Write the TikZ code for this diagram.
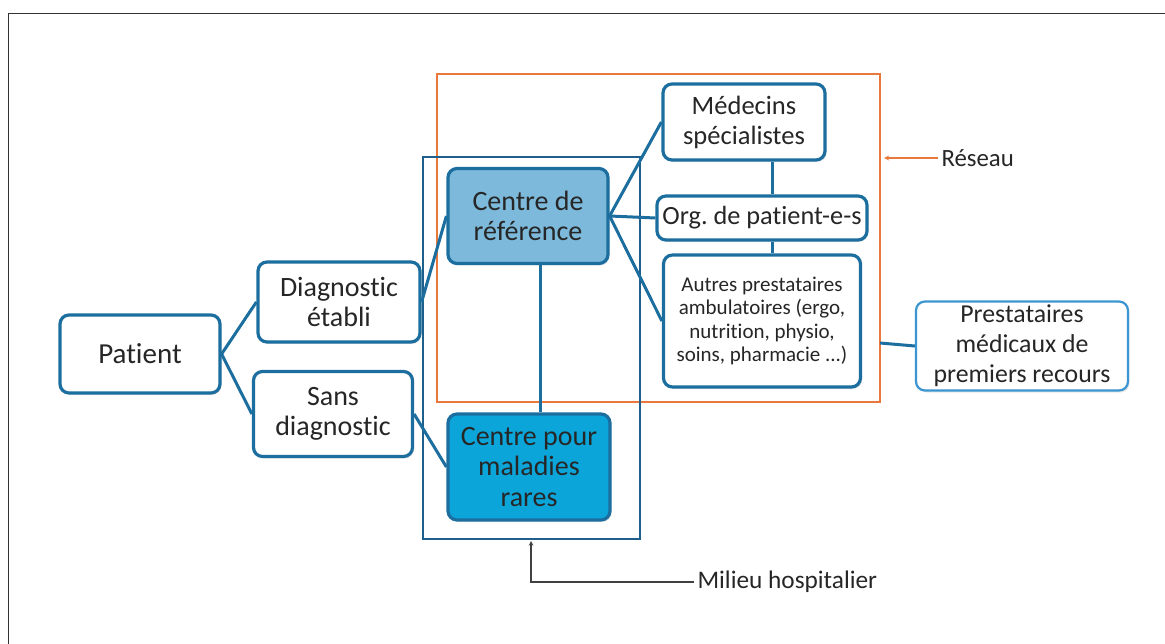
\documentclass[tikz,border=0pt]{standalone}
\usepackage{fontspec}
\setmainfont{Carlito}[Ligatures=NoCommon]
\usetikzlibrary{shadows}
\frenchspacing
\definecolor{boxblue}{HTML}{1C6E9E}
\definecolor{refblue}{HTML}{7DB9DB}
\definecolor{rareblue}{HTML}{0CA5D9}
\definecolor{lightline}{HTML}{3A95D0}
\definecolor{hospblue}{HTML}{1E5F8C}
\definecolor{netorange}{HTML}{E8793A}
\definecolor{txt}{HTML}{262626}
\tikzset{
	box/.style={draw=boxblue, line width=3.2pt, rounded corners=9pt, fill=white, align=center,
		text=txt, inner sep=2pt, font=\fontsize{28}{30.5}\selectfont,
		drop shadow={opacity=.18, shadow xshift=1.5pt, shadow yshift=-2pt}},
	link/.style={draw=boxblue, line width=3pt}
}

\begin{document}
\begin{tikzpicture}[x=1pt,y=-1pt]
		\useasboundingbox (0,0) rectangle (1165,644);
		\draw[line width=1pt, color=black!80] (8,14) rectangle (1180,660);
		% groups
		\draw[netorange, line width=2pt] (437,74) rectangle (880,402);
		\draw[hospblue, line width=2pt] (423,157) rectangle (640,539);
		% boxes
		\node[box, minimum width=160pt, minimum height=78pt, font=\fontsize{29}{31}\selectfont] (patient) at (140,354) {Patient};
		\node[box, minimum width=162pt, minimum height=80pt] (diag) at (339,302) {Diagnostic\\établi};
		\node[box, minimum width=159pt, minimum height=85pt] (sans) at (333,414) {Sans\\diagnostic};
		\node[box, fill=refblue, minimum width=160pt, minimum height=95pt] (ref) at (528,216) {Centre de\\référence};
		\node[box, fill=rareblue, minimum width=162pt, minimum height=106pt] (rare) at (529,467) {Centre pour\\maladies\\rares};
		\node[box, minimum width=162pt, minimum height=76pt, font=\fontsize{26.5}{30}\selectfont] (med) at (744,122) {Médecins\\spécialistes};
		\node[box, minimum width=210pt, minimum height=44pt, inner sep=0pt, font=\fontsize{26.3}{30}\selectfont] (org) at (762,218) {Org. de patient-e-s};
		\node[box, minimum width=197pt, minimum height=132pt, font=\fontsize{21}{23.5}\selectfont] (autres) at (762,321)
			{Autres prestataires\\ambulatoires (ergo,\\nutrition, physio,\\soins, pharmacie ...)};
		\node[box, draw=lightline, line width=2.2pt, minimum width=212pt, minimum height=89pt, font=\fontsize{25.8}{30}\selectfont] (prest) at (1022,346)
			{Prestataires\\médicaux de\\premiers recours};
		% links
		\draw[link] (patient.east) -- (diag.west);
		\draw[link] (patient.east) -- (sans.west);
		\draw[link] (diag.east) -- (ref.west);
		\draw[link] (sans.east) -- (rare.west);
		\draw[link] ([xshift=12pt]ref.south) -- ([xshift=12pt]ref.south |- rare.north);
		\draw[link] (ref.east) -- (med.west);
		\draw[link] (ref.east) -- (org.west);
		\draw[link] (ref.east) -- (autres.west);
		\draw[link] ([xshift=10pt]org.north) -- ([xshift=10pt]org.north |- med.south);
		\draw[link] ([xshift=10pt]org.south) -- ([xshift=10pt]org.south |- autres.north);
		\coordinate (netedge) at (880,343);
		\draw[link] (netedge) -- (prest.west);
		% labels
		\node[anchor=west, text=txt, font=\fontsize{24.8}{29}\selectfont] (reseau) at (938,158) {Réseau};
		\draw[->, >=stealth, netorange, line width=1.3pt] (reseau.west) -- (884,158);
		\node[anchor=west, text=txt, font=\fontsize{25.3}{29}\selectfont] (milieu) at (694,582) {Milieu hospitalier};
		\coordinate (hospbot) at (531,541);
		\draw[->, >=stealth, black!75, line width=1.1pt] (milieu.west) -- (milieu.west -| hospbot) -- (hospbot);
	\end{tikzpicture}
\end{document}
